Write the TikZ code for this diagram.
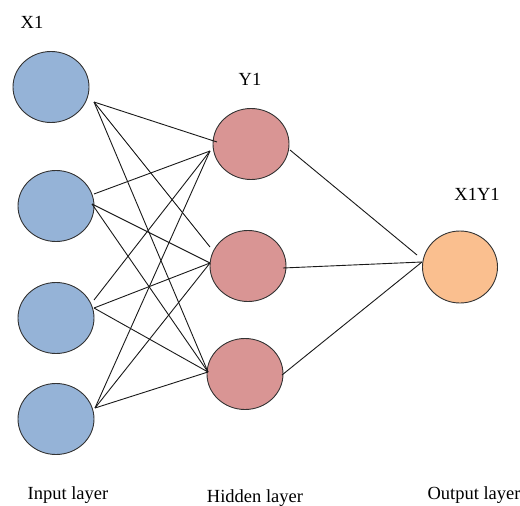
\documentclass[tikz,border=0pt]{standalone}
\usepackage{fontspec}
\setmainfont{Liberation Serif}
\usetikzlibrary{shapes.geometric,calc}
\definecolor{inblue}{HTML}{95B3D7}
\definecolor{hidred}{HTML}{D99594}
\definecolor{outorange}{HTML}{FABF8F}
\begin{document}
\begin{tikzpicture}[x=1pt,y=-1pt,
  neuron/.style={ellipse,draw=black!80,line width=0.9pt,inner sep=0pt,
    minimum width=76pt,minimum height=71pt},
  innode/.style={neuron,fill=inblue},
  hidnode/.style={neuron,fill=hidred},
  outnode/.style={neuron,fill=outorange,minimum width=75pt,minimum height=72pt},
  link/.style={draw=black!90,line width=0.9pt},
  lbl/.style={font=\fontsize{18.5}{20}\selectfont,inner sep=0pt,anchor=base}]
\useasboundingbox (0,0) rectangle (520,506);

% neurons
\node[innode] (i1) at (51,87) {};
\node[innode] (i2) at (56,206) {};
\node[innode] (i3) at (56,318) {};
\node[innode] (i4) at (56,419) {};
\node[hidnode] (h1) at (251,144) {};
\node[hidnode] (h2) at (248,266) {};
\node[hidnode] (h3) at (245,374) {};
\node[outnode] (o) at (460,267) {};

% connector ports
\coordinate (i1o) at ($(i1)+(43,15)$);
\coordinate (i2a) at ($(i2)+(38,-12)$);
\coordinate (i2b) at ($(i2)+(36,-2)$);
\coordinate (i3a) at ($(i3)+(38,-18)$);
\coordinate (i3b) at ($(i3)+(38,-10)$);
\coordinate (i4o) at ($(i4)+(39,-11)$);
\coordinate (h1a) at ($(h1)+(-34,-2)$);
\coordinate (h1b) at ($(h1)+(-41,7)$);
\coordinate (h2a) at ($(h2)+(-38,-19)$);
\coordinate (h2b) at ($(h2)+(-38,-3)$);
\coordinate (h3b) at ($(h3)+(-37,-2)$);
\coordinate (h1o) at ($(h1)+(39,6)$);
\coordinate (h2o) at ($(h2)+(35,2)$);
\coordinate (h3o) at ($(h3)+(37,1)$);
\coordinate (oa) at ($(o)+(-43,-12)$);
\coordinate (ob) at ($(o)+(-38,-5)$);

% input -> hidden
\draw[link] (i1o) -- (h1a);
\draw[link] (i1o) -- (h2a);
\draw[link] (i1o) -- (h3b);
\draw[link] (i2a) -- (h1b);
\draw[link] (i2b) -- (h2b);
\draw[link] (i2b) -- (h3b);
\draw[link] (i3a) -- (h1b);
\draw[link] (i3b) -- (h2b);
\draw[link] (i3b) -- (h3b);
\draw[link] (i4o) -- (h1b);
\draw[link] (i4o) -- (h2b);
\draw[link] (i4o) -- (h3b);

% hidden -> output
\draw[link] (h1o) -- (oa);
\draw[link] (h2o) -- (ob);
\draw[link] (h3o) -- (ob);

% labels
\node[lbl] (lx) at (32,28) {X1};
\node[lbl] (ly) at (250,85) {Y1};
\node[lbl] (lxy) at (477,200) {X1Y1};
\node[lbl] (lin) at (68,499) {Input layer};
\node[lbl] (lhid) at (255,502) {Hidden layer};
\node[lbl] (lout) at (474,499) {Output layer};
\end{tikzpicture}
\end{document}
